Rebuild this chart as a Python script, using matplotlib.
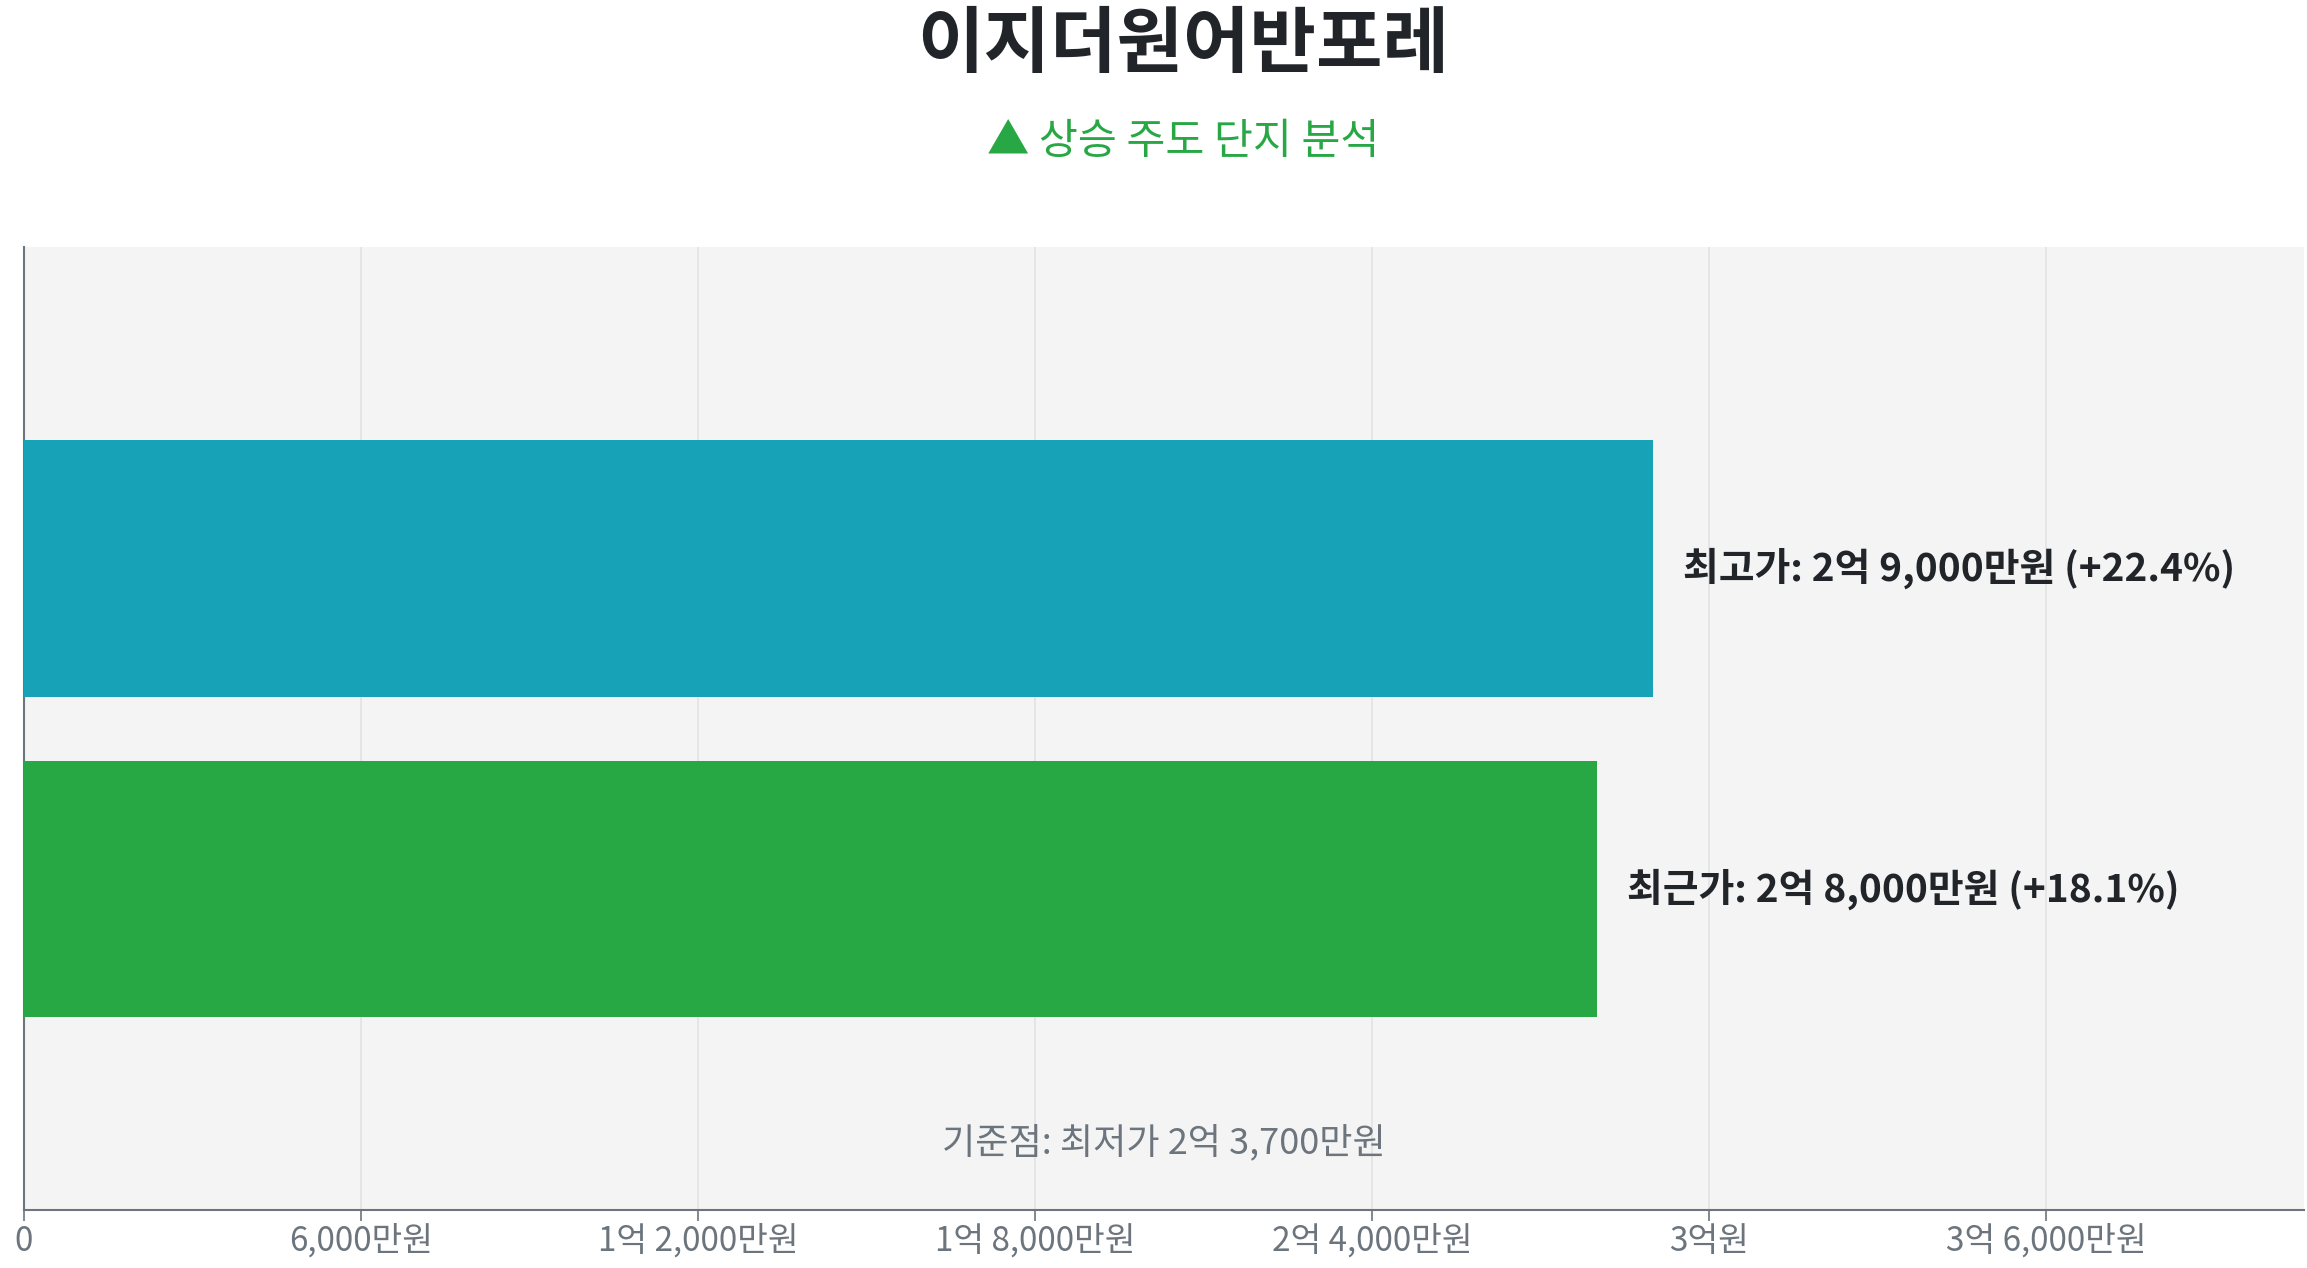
import matplotlib
matplotlib.use("Agg")
import matplotlib.pyplot as plt
from matplotlib.ticker import FixedLocator, FixedFormatter

plt.rcParams['font.family'] = ['Noto Sans CJK KR', 'DejaVu Sans']

title = "이지더원어반포레"
subtitle = "▲ 상승 주도 단지 분석"
categories = ["최근가", "최고가"]
values = [28000, 29000]          # 만원
changes = [18.1, 22.4]
bar_labels = ["최근가: 2억 8,000만원 (+18.1%)", "최고가: 2억 9,000만원 (+22.4%)"]
colors = ["#28a745", "#17a2b8"]
base_label = "기준점: 최저가 2억 3,700만원"
tick_values = [0, 6000, 12000, 18000, 24000, 30000, 36000]
tick_labels = ["0", "6,000만원", "1억 2,000만원", "1억 8,000만원", "2억 4,000만원", "3억원", "3억 6,000만원"]
x_max = 40600

fig = plt.figure(figsize=(23.07, 12.68), dpi=100)
fig.patch.set_facecolor("white")
ax = fig.add_axes([0.0104, 0.0457, 0.9884, 0.7593])
ax.set_facecolor("#f4f4f4")

ypos = list(range(len(categories)))
ax.barh(ypos, values, height=0.8, color=colors, zorder=3)
for y, v, lab in zip(ypos, values, bar_labels):
    ax.annotate(lab, xy=(v, y), xytext=(22, 0), textcoords="offset points",
                ha="left", va="center", fontsize=28, fontweight="bold", color="#212529")

ax.set_xlim(0, x_max)
ax.set_ylim(-1, 2)
ax.xaxis.set_major_locator(FixedLocator(tick_values))
ax.xaxis.set_major_formatter(FixedFormatter(tick_labels))
ax.set_yticks([])
ax.grid(axis="x", color="#e2e2e2", linewidth=1.2, zorder=0)
ax.tick_params(axis="x", colors="#6c757d", labelsize=24, length=8, width=1.2, pad=2)
for s in ["top", "right"]:
    ax.spines[s].set_visible(False)
for s in ["left", "bottom"]:
    ax.spines[s].set_color("#6c757d")
    ax.spines[s].set_linewidth(1.5)

ax.text(0.5, 0.07, base_label, transform=ax.transAxes, ha="center", va="center",
        fontsize=26, color="#6c757d")

fig.text(0.513, 0.9636, title, ha="center", va="center", fontsize=52, fontweight="bold", color="#212529")
fig.text(0.513, 0.888, subtitle, ha="center", va="center", fontsize=30.5, color="#28a745")

fig.savefig("out.png", dpi=100, facecolor="white")
